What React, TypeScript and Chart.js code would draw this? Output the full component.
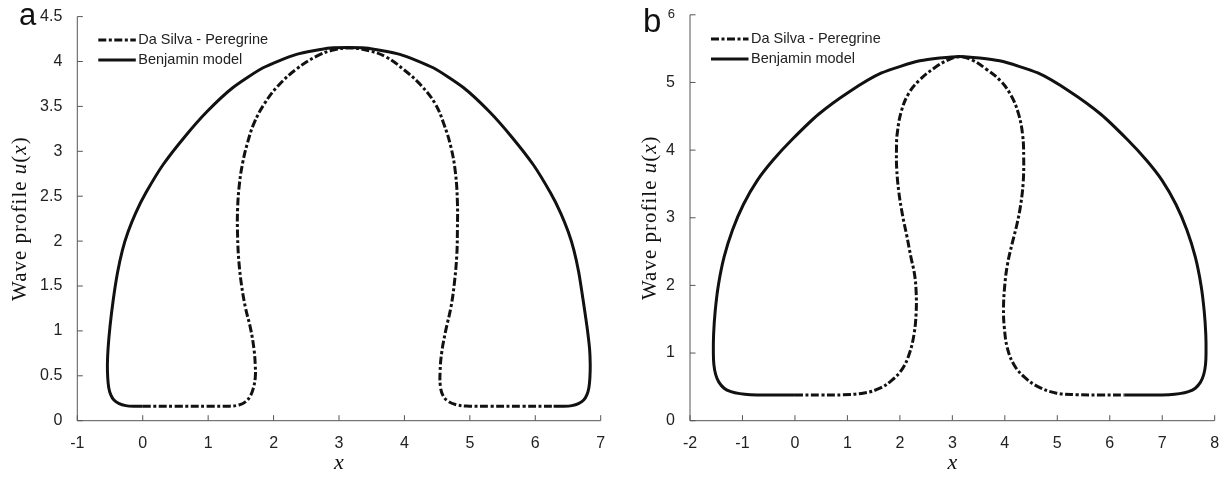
import React, { useEffect, useRef } from "react";
import { Chart, registerables } from "chart.js";

Chart.register(...registerables);

// ---------- DATA ----------
// Panel a
const xTicksA = [-1, 0, 1, 2, 3, 4, 5, 6, 7];
const yTicksA = [0, 0.5, 1, 1.5, 2, 2.5, 3, 3.5, 4, 4.5];

const daSilvaA: [number, number][] = [
  [0, 0.16], [0.5, 0.16], [1.0, 0.16], [1.33, 0.162], [1.47, 0.175], [1.57, 0.21],
  [1.64, 0.27], [1.69, 0.36], [1.72, 0.48], [1.72, 0.62], [1.7, 0.8], [1.65, 1.02],
  [1.57, 1.26], [1.51, 1.51], [1.47, 1.77], [1.45, 2.06], [1.45, 2.36], [1.48, 2.65],
  [1.53, 2.88], [1.6, 3.09], [1.7, 3.31], [1.86, 3.53], [2.07, 3.73], [2.34, 3.91],
  [2.66, 4.06], [2.93, 4.13], [3.19, 4.15], [3.46, 4.12], [3.72, 4.05], [3.99, 3.91],
  [4.26, 3.73], [4.47, 3.53], [4.6, 3.31], [4.71, 3.05], [4.78, 2.76], [4.81, 2.43],
  [4.81, 2.14], [4.8, 1.84], [4.76, 1.51], [4.71, 1.26], [4.63, 1.0], [4.57, 0.76],
  [4.545, 0.55], [4.55, 0.38], [4.59, 0.28], [4.66, 0.22], [4.78, 0.18], [4.95, 0.163],
  [5.3, 0.16], [5.8, 0.16], [6.28, 0.16],
];

const benjaminA: [number, number][] = [
  [0, 0.16], [-0.14, 0.16], [-0.26, 0.168], [-0.36, 0.19], [-0.44, 0.23], [-0.49, 0.29],
  [-0.52, 0.37], [-0.535, 0.48], [-0.54, 0.62], [-0.53, 0.8], [-0.5, 1.05], [-0.45, 1.35],
  [-0.385, 1.65], [-0.31, 1.9], [-0.225, 2.1], [-0.11, 2.31], [0.05, 2.54], [0.31, 2.85],
  [0.64, 3.16], [0.98, 3.44], [1.38, 3.71], [1.84, 3.93], [2.35, 4.08], [2.87, 4.15],
  [3.4, 4.15], [3.93, 4.08], [4.44, 3.93], [4.9, 3.71], [5.3, 3.44], [5.64, 3.16],
  [5.97, 2.85], [6.23, 2.54], [6.39, 2.31], [6.505, 2.1], [6.59, 1.9], [6.665, 1.65],
  [6.73, 1.35], [6.79, 1.05], [6.83, 0.8], [6.84, 0.62], [6.835, 0.48], [6.82, 0.37],
  [6.79, 0.29], [6.74, 0.23], [6.66, 0.19], [6.56, 0.168], [6.44, 0.16], [6.28, 0.16],
];

// Panel b
const xTicksB = [-2, -1, 0, 1, 2, 3, 4, 5, 6, 7, 8];
const yTicksB = [0, 1, 2, 3, 4, 5, 6];

const daSilvaB: [number, number][] = [
  [0, 0.38], [0.5, 0.38], [0.92, 0.382], [1.32, 0.41], [1.62, 0.48], [1.85, 0.6],
  [2.05, 0.77], [2.18, 0.99], [2.27, 1.28], [2.31, 1.6], [2.31, 1.9], [2.28, 2.16],
  [2.21, 2.42], [2.13, 2.74], [2.05, 3.04], [1.98, 3.38], [1.94, 3.72], [1.935, 4.01],
  [1.95, 4.25], [2.03, 4.58], [2.17, 4.84], [2.38, 5.04], [2.65, 5.21], [2.91, 5.33],
  [3.14, 5.38], [3.38, 5.33], [3.64, 5.2], [3.91, 5.03], [4.11, 4.82], [4.26, 4.54],
  [4.34, 4.22], [4.36, 3.88], [4.35, 3.52], [4.3, 3.18], [4.23, 2.9], [4.14, 2.62],
  [4.05, 2.31], [4.0, 2.01], [3.975, 1.67], [3.99, 1.38], [4.05, 1.07], [4.18, 0.82],
  [4.38, 0.64], [4.64, 0.5], [4.97, 0.41], [5.36, 0.385], [5.8, 0.38], [6.28, 0.38],
];

const benjaminB: [number, number][] = [
  [0, 0.38], [-0.5, 0.38], [-0.85, 0.385], [-1.05, 0.4], [-1.22, 0.43], [-1.35, 0.48],
  [-1.45, 0.57], [-1.51, 0.68], [-1.545, 0.83], [-1.555, 1.0], [-1.55, 1.28], [-1.52, 1.62],
  [-1.46, 2.0], [-1.35, 2.42], [-1.19, 2.82], [-0.98, 3.2], [-0.72, 3.55], [-0.42, 3.85],
  [-0.05, 4.16], [0.45, 4.53], [1.03, 4.86], [1.65, 5.14], [2.38, 5.32], [3.14, 5.385],
  [3.9, 5.32], [4.63, 5.14], [5.25, 4.86], [5.83, 4.53], [6.33, 4.16], [6.7, 3.85],
  [7.0, 3.55], [7.26, 3.2], [7.47, 2.82], [7.63, 2.42], [7.74, 2.0], [7.8, 1.62],
  [7.83, 1.28], [7.835, 1.0], [7.825, 0.83], [7.79, 0.68], [7.73, 0.57], [7.63, 0.48],
  [7.5, 0.43], [7.33, 0.4], [7.13, 0.385], [6.78, 0.38], [6.28, 0.38],
];

const legendLabels = ["Da Silva - Peregrine", "Benjamin model"];

// ---------- STYLE ----------
const DASH = [8, 2.5, 3, 2.5];
const INK = "#111";
const AXIS = "#555";
const TICKTXT = "#222";
const TICK_SIZE = 16;

type PanelCfg = {
  letter: string;
  letterX: number;
  letterBase: number;
  letterSize: number;
  titleX: number;
  xMin: number;
  xMax: number;
  yMax: number;
  xTicks: number[];
  yTicks: number[];
  daSilva: [number, number][];
  benjamin: [number, number][];
  yWidth: number;
  padRight: number;
  padTop: number;
  legendY: number[];
  smallTop: boolean;
  width: number;
};

function drawYTitle(ctx: CanvasRenderingContext2D, cx: number, cy: number) {
  const parts: [string, string][] = [
    ["Wave profile ", "21px 'Liberation Serif'"],
    ["u", "italic 21px 'Liberation Serif'"],
    ["(", "21px 'Liberation Serif'"],
    ["x", "italic 21px 'Liberation Serif'"],
    [")", "21px 'Liberation Serif'"],
  ];
  ctx.save();
  (ctx as any).letterSpacing = "1px";
  let total = 0;
  const widths: number[] = [];
  for (const [t, f] of parts) {
    ctx.font = f;
    const w = ctx.measureText(t).width;
    widths.push(w);
    total += w;
  }
  ctx.translate(cx, cy);
  ctx.rotate(-Math.PI / 2);
  ctx.fillStyle = INK;
  ctx.textBaseline = "middle";
  ctx.textAlign = "left";
  let x = -total / 2;
  parts.forEach(([t, f], i) => {
    ctx.font = f;
    ctx.fillText(t, x, 0);
    x += widths[i];
  });
  ctx.restore();
}

function makePlugin(cfg: PanelCfg) {
  return {
    id: "decor" + cfg.letter,
    afterDraw(chart: any) {
      const ctx: CanvasRenderingContext2D = chart.ctx;
      const { left, right, top, bottom } = chart.chartArea;
      const xs = chart.scales.x;
      const ys = chart.scales.y;
      ctx.save();
      // axes
      ctx.strokeStyle = AXIS;
      ctx.lineWidth = 1;
      ctx.beginPath();
      ctx.moveTo(left, top);
      ctx.lineTo(left, bottom);
      ctx.lineTo(right, bottom);
      for (const t of xs.ticks) {
        const px = xs.getPixelForValue(t.value);
        ctx.moveTo(px, bottom);
        ctx.lineTo(px, bottom - 5.5);
      }
      for (const t of ys.ticks) {
        const py = ys.getPixelForValue(t.value);
        ctx.moveTo(left, py);
        ctx.lineTo(left + 5.5, py);
      }
      ctx.stroke();

      // legend
      const lx0 = left + 21;
      const lx1 = left + 58.5;
      ctx.lineWidth = 3.2;
      ctx.strokeStyle = INK;
      ctx.lineCap = "butt";
      ctx.setLineDash(DASH);
      ctx.beginPath();
      ctx.moveTo(lx0, cfg.legendY[0]);
      ctx.lineTo(lx1, cfg.legendY[0]);
      ctx.stroke();
      ctx.setLineDash([]);
      ctx.beginPath();
      ctx.moveTo(lx0, cfg.legendY[1]);
      ctx.lineTo(lx1, cfg.legendY[1]);
      ctx.stroke();
      ctx.fillStyle = TICKTXT;
      ctx.font = "14.5px 'Liberation Sans'";
      ctx.textBaseline = "middle";
      ctx.textAlign = "left";
      ctx.fillText(legendLabels[0], left + 61, cfg.legendY[0]);
      ctx.fillText(legendLabels[1], left + 61, cfg.legendY[1]);

      // panel letter
      ctx.fillStyle = INK;
      ctx.font = `${cfg.letterSize}px 'Liberation Sans'`;
      ctx.textBaseline = "alphabetic";
      ctx.fillText(cfg.letter, cfg.letterX, cfg.letterBase);

      // x title
      ctx.font = "italic 22px 'Liberation Serif'";
      ctx.textAlign = "center";
      ctx.fillText("x", (left + right) / 2, 469);
      ctx.restore();

      drawYTitle(ctx, cfg.titleX, (top + bottom) / 2);
    },
  };
}

function Panel({ cfg }: { cfg: PanelCfg }) {
  const ref = useRef<HTMLCanvasElement | null>(null);
  useEffect(() => {
    if (!ref.current) return;
    const chart = new Chart(ref.current, {
      type: "scatter",
      data: {
        datasets: [
          {
            label: legendLabels[0],
            data: cfg.daSilva.map(([x, y]) => ({ x, y })),
            showLine: true,
            borderColor: INK,
            borderWidth: 3,
            borderDash: DASH,
            borderCapStyle: "butt",
            pointRadius: 0,
            tension: 0.4,
            fill: false,
          },
          {
            label: legendLabels[1],
            data: cfg.benjamin.map(([x, y]) => ({ x, y })),
            showLine: true,
            borderColor: INK,
            borderWidth: 3,
            pointRadius: 0,
            tension: 0.2,
            borderJoinStyle: "round",
            fill: false,
          },
        ],
      },
      options: {
        animation: false,
        responsive: false,
        devicePixelRatio: 1,
        layout: { padding: { left: 0, top: cfg.padTop, right: cfg.padRight, bottom: 0 } },
        plugins: { legend: { display: false }, tooltip: { enabled: false } },
        events: [],
        scales: {
          x: {
            type: "linear",
            min: cfg.xMin,
            max: cfg.xMax,
            afterBuildTicks: (s: any) => {
              s.ticks = cfg.xTicks.map((v) => ({ value: v }));
            },
            afterFit: (s: any) => {
              s.height = 56.3;
            },
            grid: { display: false },
            border: { display: false },
            ticks: {
              autoSkip: false,
              maxRotation: 0,
              padding: 5,
              color: TICKTXT,
              font: { size: TICK_SIZE, family: "'Liberation Sans'" },
              callback: (v: any) => String(v),
            },
          },
          y: {
            type: "linear",
            min: 0,
            max: cfg.yMax,
            afterBuildTicks: (s: any) => {
              s.ticks = cfg.yTicks.map((v) => ({ value: v }));
            },
            afterFit: (s: any) => {
              s.width = cfg.yWidth;
            },
            grid: { display: false },
            border: { display: false },
            ticks: {
              autoSkip: false,
              padding: 7,
              color: TICKTXT,
              font: (c: any) => ({
                size: cfg.smallTop && c.tick && c.tick.value === cfg.yMax ? 13 : TICK_SIZE,
                family: "'Liberation Sans'",
              }),
              callback: (v: any) => String(v),
            },
          },
        },
      },
      plugins: [makePlugin(cfg)],
    } as any);
    return () => chart.destroy();
  }, [cfg]);
  return (
    <canvas
      ref={ref}
      width={cfg.width}
      height={477}
      style={{ width: cfg.width, height: 477, display: "block" }}
    />
  );
}

const cfgA: PanelCfg = {
  letter: "a",
  letterX: 19,
  letterBase: 25,
  letterSize: 31,
  titleX: 20,
  xMin: -1,
  xMax: 7,
  yMax: 4.5,
  xTicks: xTicksA,
  yTicks: yTicksA,
  daSilva: daSilvaA,
  benjamin: benjaminA,
  yWidth: 77.3,
  padRight: 11.3,
  padTop: 12,
  legendY: [40, 60],
  smallTop: false,
  width: 612,
};

const cfgB: PanelCfg = {
  letter: "b",
  letterX: 31,
  letterBase: 32,
  letterSize: 33,
  titleX: 38,
  xMin: -2,
  xMax: 8,
  yMax: 6,
  xTicks: xTicksB,
  yTicks: yTicksB,
  daSilva: daSilvaB,
  benjamin: benjaminB,
  yWidth: 78,
  padRight: 10.3,
  padTop: 11,
  legendY: [39, 59],
  smallTop: true,
  width: 613,
};

export default function App() {
  return (
    <div
      style={{
        position: "absolute",
        left: 0,
        top: 0,
        width: 1225,
        height: 477,
        background: "#fff",
        display: "flex",
        flexDirection: "row",
      }}
    >
      <Panel cfg={cfgA} />
      <Panel cfg={cfgB} />
    </div>
  );
}
